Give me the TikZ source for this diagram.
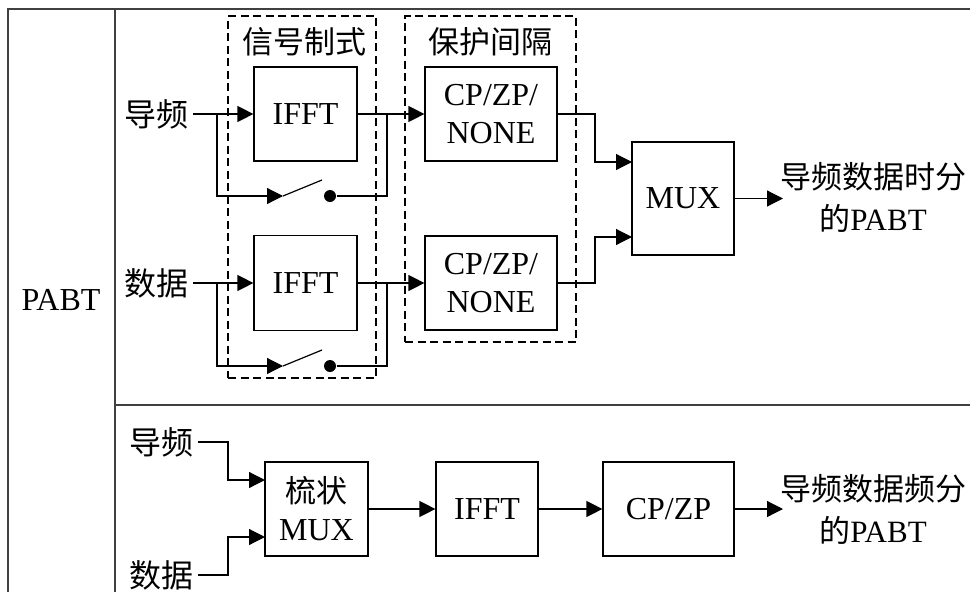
\documentclass[tikz,border=0pt]{standalone}
\usepackage{fontspec}
\setmainfont{Liberation Serif}
\newfontfamily\cjk{Noto Sans CJK SC}
\usetikzlibrary{arrows.meta}
\begin{document}
\begin{tikzpicture}[x=1pt,y=-1pt,
  line width=1.2pt,
  txt/.style={font=\fontsize{32}{42}\selectfont, inner sep=0pt},
  zh/.style={font=\cjk\fontsize{31}{42}\selectfont, inner sep=0pt},
  lbl/.style={font=\cjk\fontsize{32}{36}\selectfont, inner ysep=0pt, inner xsep=4pt},
  blk/.style={draw, line width=1.2pt, inner sep=0pt, align=center,
              font=\fontsize{32}{38}\selectfont},
  grp/.style={draw, line width=1.8pt, dash pattern=on 8pt off 4.5pt, inner sep=0pt},
  arr/.style={-{Triangle[length=16pt,width=16pt]}},
  contact/.style={circle, fill, inner sep=0pt, minimum size=12pt},
  frame/.style={line width=1.5pt, draw=black!75}]
\useasboundingbox (0,0) rectangle (970,592);

% outer table
\draw[frame] (8,592) -- (8,9) -- (970,9);
\draw[frame] (115,9) -- (115,592);
\draw[frame] (115,405) -- (970,405);
\node[txt] (pabt) at (61,300) {PABT};

% ---------- time-division scheme ----------
\node[grp, minimum width=148pt, minimum height=362pt] (grpA) at (302,197) {};
\node[grp, minimum width=171pt, minimum height=326pt] (grpB) at (490.5,179) {};
\node[zh] (tA) at (304,42) {信号制式};
\node[zh] (tB) at (490,42) {保护间隔};

\node[lbl, anchor=east] (p1) at (193,114) {导频};
\node[lbl, anchor=east] (d1) at (193,283) {数据};

\node[blk, minimum width=103pt, minimum height=94pt] (ifftA) at (305.5,114) {IFFT};
\node[blk, minimum width=103pt, minimum height=95pt] (ifftB) at (305.5,283) {IFFT};
\node[blk, minimum width=132pt, minimum height=94pt] (cpA) at (491,114) {CP/ZP/\\NONE};
\node[blk, minimum width=132pt, minimum height=94pt] (cpB) at (491,283) {CP/ZP/\\NONE};
\node[blk, minimum width=102pt, minimum height=113pt] (mux) at (683,198.5) {MUX};
\node[zh, align=center] (outA) at (873,197) {导频数据时分\\的{\fontspec{Liberation Serif}PABT}};

% bypass junctions and switch contacts
\coordinate (jA1) at (217,114);
\coordinate (jA2) at (387,114);
\coordinate (swA) at (283,196);
\node[contact] (dotA) at (330,196) {};
\coordinate (jB1) at (217,283);
\coordinate (jB2) at (387,283);
\coordinate (swB) at (283,366);
\node[contact] (dotB) at (330,366) {};

\draw[arr] (p1.east) -- (ifftA.west);
\draw[arr] (ifftA.east) -- (cpA.west);
\draw[arr] (jA1) |- (swA);
\draw (swA) -- ++(39,-16);
\draw (dotA) -| (jA2);

\draw[arr] (d1.east) -- (ifftB.west);
\draw[arr] (ifftB.east) -- (cpB.west);
\draw[arr] (jB1) |- (swB);
\draw (swB) -- ++(39,-16);
\draw (dotB) -| (jB2);

\coordinate (kA) at (595,138);
\coordinate (kB) at (595,260);
\coordinate (muxInA) at (632,162);
\coordinate (muxInB) at (632,237);
\draw[arr] (cpA.east) -| (kA) |- (muxInA);
\draw[arr] (cpB.east) -| (kB) |- (muxInB);
\draw[arr] (mux.east) -- (783,198.5);

% ---------- frequency-division scheme ----------
\node[lbl, anchor=east] (p2) at (198,442) {导频};
\node[lbl, anchor=east] (d2) at (198,575) {数据};
\node[blk, minimum width=103pt, minimum height=94pt] (comb) at (316.5,509) {{\cjk\fontsize{31}{38}\selectfont 梳状}\\MUX};
\node[blk, minimum width=102pt, minimum height=94pt] (ifftC) at (487,509) {IFFT};
\node[blk, minimum width=131pt, minimum height=94pt] (cpzp) at (668.5,509) {CP/ZP};
\node[zh, align=center] (outB) at (873,509) {导频数据频分\\的{\fontspec{Liberation Serif}PABT}};

\coordinate (kC) at (228,460);
\coordinate (kD) at (228,556);
\coordinate (combInA) at (265,480);
\coordinate (combInB) at (265,537);
\draw[arr] (p2.east) -| (kC) |- (combInA);
\draw[arr] (d2.east) -| (kD) |- (combInB);
\draw[arr] (comb.east) -- (ifftC.west);
\draw[arr] (ifftC.east) -- (cpzp.west);
\draw[arr] (cpzp.east) -- (783,509);
\end{tikzpicture}
\end{document}
